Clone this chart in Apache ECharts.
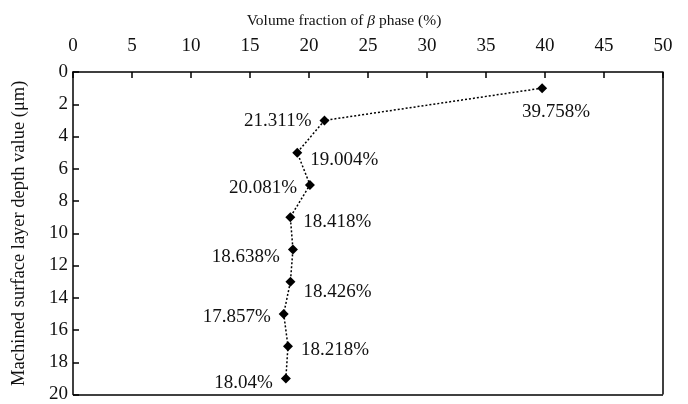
<!DOCTYPE html>
<html>
<head>
<meta charset="utf-8">
<script src="https://cdn.jsdelivr.net/npm/echarts@6/dist/echarts.min.js"></script>
<style>
  html, body { margin: 0; padding: 0; background: #fff; }
  #chart { width: 688px; height: 404px; }
</style>
</head>
<body>
<div id="chart"></div>
<script>
// Depth below the machined surface (μm) and β-phase volume fraction (%)
const depths = [1, 3, 5, 7, 9, 11, 13, 15, 17, 19];
const betaFraction = [39.758, 21.311, 19.004, 20.081, 18.418, 18.638, 18.426, 17.857, 18.218, 18.04];
const labelText = ['39.758%', '21.311%', '19.004%', '20.081%', '18.418%', '18.638%', '18.426%', '17.857%', '18.218%', '18.04%'];
// Where each value label sits relative to its point, and its vertical nudge in px
const labelSide = ['bottom', 'left', 'right', 'left', 'right', 'left', 'right', 'left', 'right', 'left'];
const labelNudge = [2, 1, 7, 3, 5, 8, 10, 3, 4, 5];

const font = '"Liberation Serif", "Times New Roman", serif';
const chart = echarts.init(document.getElementById('chart'));

const points = depths.map((d, i) => ({
  value: [betaFraction[i], d],
  label: {
    show: true,
    position: labelSide[i],
    distance: labelSide[i] === 'bottom' ? 7 : 8,
    offset: labelSide[i] === 'bottom' ? [14, labelNudge[i]] : [0, labelNudge[i]],
    formatter: labelText[i]
  }
}));

chart.setOption({
  animation: false,
  title: {
    left: 'center',
    top: 8,
    text: 'Volume fraction of {b|β} phase (%)',
    textStyle: {
      fontFamily: font, fontSize: 15.5, fontWeight: 'normal', color: '#111',
      rich: { b: { fontFamily: font, fontSize: 15.5, fontStyle: 'italic', color: '#111' } }
    }
  },
  grid: { left: 73, right: 25, top: 72, bottom: 6 },
  xAxis: {
    type: 'value', position: 'top', min: 0, max: 50, interval: 5,
    axisLine: { show: true, lineStyle: { color: '#000', width: 1.5 } },
    axisTick: { show: true, inside: true, length: 6, lineStyle: { color: '#000', width: 1.5 } },
    axisLabel: { fontFamily: font, fontSize: 19, color: '#111', margin: 16 },
    splitLine: { show: false }
  },
  yAxis: {
    type: 'value', inverse: true, min: 0, max: 20, interval: 2,
    name: 'Machined surface layer depth value (μm)',
    nameLocation: 'middle', nameGap: 44,
    nameTextStyle: { fontFamily: font, fontSize: 18.5, color: '#111' },
    axisLine: { show: true, lineStyle: { color: '#000', width: 1.5 } },
    axisTick: { show: true, inside: true, length: 6, lineStyle: { color: '#000', width: 1.5 } },
    axisLabel: { fontFamily: font, fontSize: 19, color: '#111', margin: 5 },
    splitLine: { show: false }
  },
  series: [{
    type: 'line',
    data: points,
    symbol: 'diamond',
    symbolSize: 10,
    itemStyle: { color: '#000' },
    lineStyle: { color: '#000', width: 1.5, type: [2, 2] },
    label: { fontFamily: font, fontSize: 19, color: '#111' },
    markLine: {
      silent: true, symbol: 'none', label: { show: false },
      lineStyle: { color: '#000', width: 1.5, type: 'solid' },
      data: [
        [{ coord: [50, 0] }, { coord: [50, 20] }],
        [{ coord: [0, 20] }, { coord: [50, 20] }]
      ]
    }
  }]
});
</script>
</body>
</html>
